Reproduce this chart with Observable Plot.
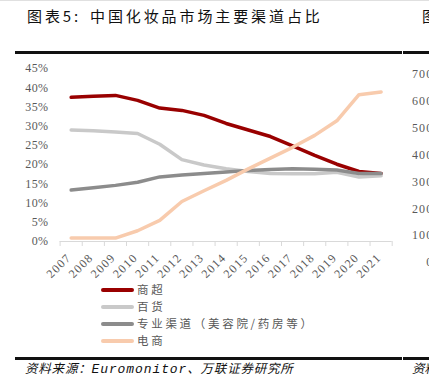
<!DOCTYPE html>
<html><head><meta charset="utf-8">
<script src="https://cdn.jsdelivr.net/npm/d3@7"></script>
<script src="https://cdn.jsdelivr.net/npm/@observablehq/plot@0.6"></script>
<style>
body{margin:0;background:#fff;}
#wrap{position:relative;width:429px;height:385px;overflow:hidden;background:#fff;border-top:1px solid #e0e0e0;box-sizing:border-box;}
.abs{position:absolute;white-space:nowrap;}
.hr{position:absolute;height:2.5px;background:#111;}
.ttl{top:4px;font:15px "Noto Sans CJK SC";letter-spacing:2.9px;color:#111;}
#src{left:25px;top:357px;font:italic 12.5px "Noto Sans CJK SC";letter-spacing:0.8px;color:#111;}
#src .lat{font:italic 13px "Liberation Mono";letter-spacing:0.9px;}
.leg{position:absolute;left:101px;font:11.5px "Noto Sans CJK SC";letter-spacing:2.7px;color:#595959;height:16px;line-height:16px;}
.leg i{display:inline-block;width:33px;height:3.5px;vertical-align:middle;margin-right:3px;border-radius:2px;position:relative;top:-1px;}
svg{max-width:none !important;}
</style></head>
<body><div id="wrap">
<div class="abs ttl" style="left:27px;">图表5:</div>
<div class="abs ttl" style="left:90px;">中国化妆品市场主要渠道占比</div>
<div class="abs ttl" style="left:422px;">图</div>
<div class="hr" style="left:15px;width:387px;top:50px;"></div>
<div class="hr" style="left:403px;width:30px;top:50px;"></div>
<div id="chart" class="abs" style="left:0;top:0;width:429px;"></div>
<div id="chart2" class="abs" style="left:380px;top:0;width:60px;"></div>
<div id="legend"></div>
<div class="hr" style="left:15px;width:387px;top:356px;"></div>
<div class="hr" style="left:403px;width:30px;top:356px;"></div>
<div id="src" class="abs">资料来源：<span class="lat">Euromonitor</span>、万联证券研究所</div>
<div class="abs" style="left:412px;top:357px;font:italic 12.5px 'Noto Sans CJK SC';color:#111;">资料</div>
</div>
<script>
const years = [2007, 2008, 2009, 2010, 2011, 2012, 2013, 2014, 2015, 2016, 2017, 2018, 2019, 2020, 2021];
const shangchao = [37.5, 37.8, 38.0, 36.7, 34.7, 34.1, 32.8, 30.7, 29.0, 27.3, 24.9, 22.4, 20.1, 18.2, 17.7];
const baihuo    = [29.0, 28.8, 28.5, 28.1, 25.3, 21.3, 19.9, 18.9, 18.2, 17.7, 17.6, 17.6, 18.0, 16.8, 17.1];
const zhuanye   = [13.4, 14.0, 14.6, 15.4, 16.8, 17.3, 17.7, 18.1, 18.5, 18.7, 18.9, 18.8, 18.6, 17.7, 17.7];
const dianshang = [0.9, 0.9, 0.9, 2.8, 5.5, 10.4, 13.2, 15.9, 18.9, 21.7, 24.5, 27.6, 31.4, 38.2, 38.9];
const seriesNames = ["商超", "百货", "专业渠道（美容院/药房等）", "电商"];
const seriesColors = ["#990000", "#c9c9c9", "#8c8c8c", "#f8cbad"];
const yTicks = [0, 5, 10, 15, 20, 25, 30, 35, 40, 45];
const rightTicks = [0, 100, 200, 300, 400, 500, 600, 700];

const seriesValues = [shangchao, baihuo, zhuanye, dianshang];
const rows = [];
seriesValues.forEach((vals, i) => vals.forEach((v, j) => rows.push({year: years[j], value: v, series: seriesNames[i]})));
const boundaries = years.map(y => y - 0.5).concat([years[years.length - 1] + 0.5]);

const chart = Plot.plot({
  width: 429, height: 280,
  marginTop: 67, marginBottom: 40, marginLeft: 59.6, marginRight: 37.3,
  x: {type: "linear", domain: [years[0] - 0.5, years[years.length - 1] + 0.5]},
  y: {domain: [0, 45]},
  color: {domain: seriesNames, range: seriesColors},
  style: {fontFamily: "Liberation Serif", fontSize: "12px", color: "#595959", background: "transparent", overflow: "visible", maxWidth: "none"},
  marks: [
    Plot.ruleY([0], {stroke: "#d9d9d9", strokeWidth: 1}),
    Plot.axisX({ticks: boundaries, tickSize: 5, tickFormat: () => "", stroke: "#d9d9d9", label: null}),
    Plot.axisX({ticks: years, tickSize: 0, tickPadding: 14, dx: -2, tickRotate: -45, tickFormat: d => String(d), label: null, fill: "#595959"}),
    Plot.axisY({ticks: yTicks, tickSize: 0, tickPadding: 11.6, tickFormat: d => d + "%", label: null, fill: "#595959"}),
    Plot.lineY(rows, {x: "year", y: "value", z: "series", stroke: "series", strokeWidth: 3.5, strokeLinejoin: "round", strokeLinecap: "round"})
  ]
});
d3.select(chart).selectAll('[aria-label="x-axis tick label"] text').attr("letter-spacing", "1.3px");
d3.select(chart).selectAll('[aria-label="y-axis tick label"] text').attr("letter-spacing", "0.4px");
document.getElementById("chart").appendChild(chart);

const chart2 = Plot.plot({
  width: 60, height: 280,
  marginTop: 72.7, marginBottom: 19, marginLeft: 53, marginRight: 7,
  y: {domain: [0, 700]},
  style: {fontFamily: "Liberation Serif", fontSize: "12px", color: "#595959", background: "transparent", overflow: "visible", maxWidth: "none"},
  marks: [
    Plot.axisY({ticks: rightTicks, tickSize: 0, tickPadding: 0, label: null, fill: "#595959"})
  ]
});
d3.select(chart2).selectAll("text").attr("letter-spacing", "1.2px");
document.getElementById("chart2").appendChild(chart2);

const legend = document.getElementById("legend");
const legTops = [280, 297, 314, 331];
seriesNames.forEach((n, i) => {
  const d = document.createElement("div");
  d.className = "leg";
  d.style.top = legTops[i] + "px";
  d.innerHTML = `<i style="background:${seriesColors[i]}"></i>${n}`;
  legend.appendChild(d);
});
</script>
</body></html>
